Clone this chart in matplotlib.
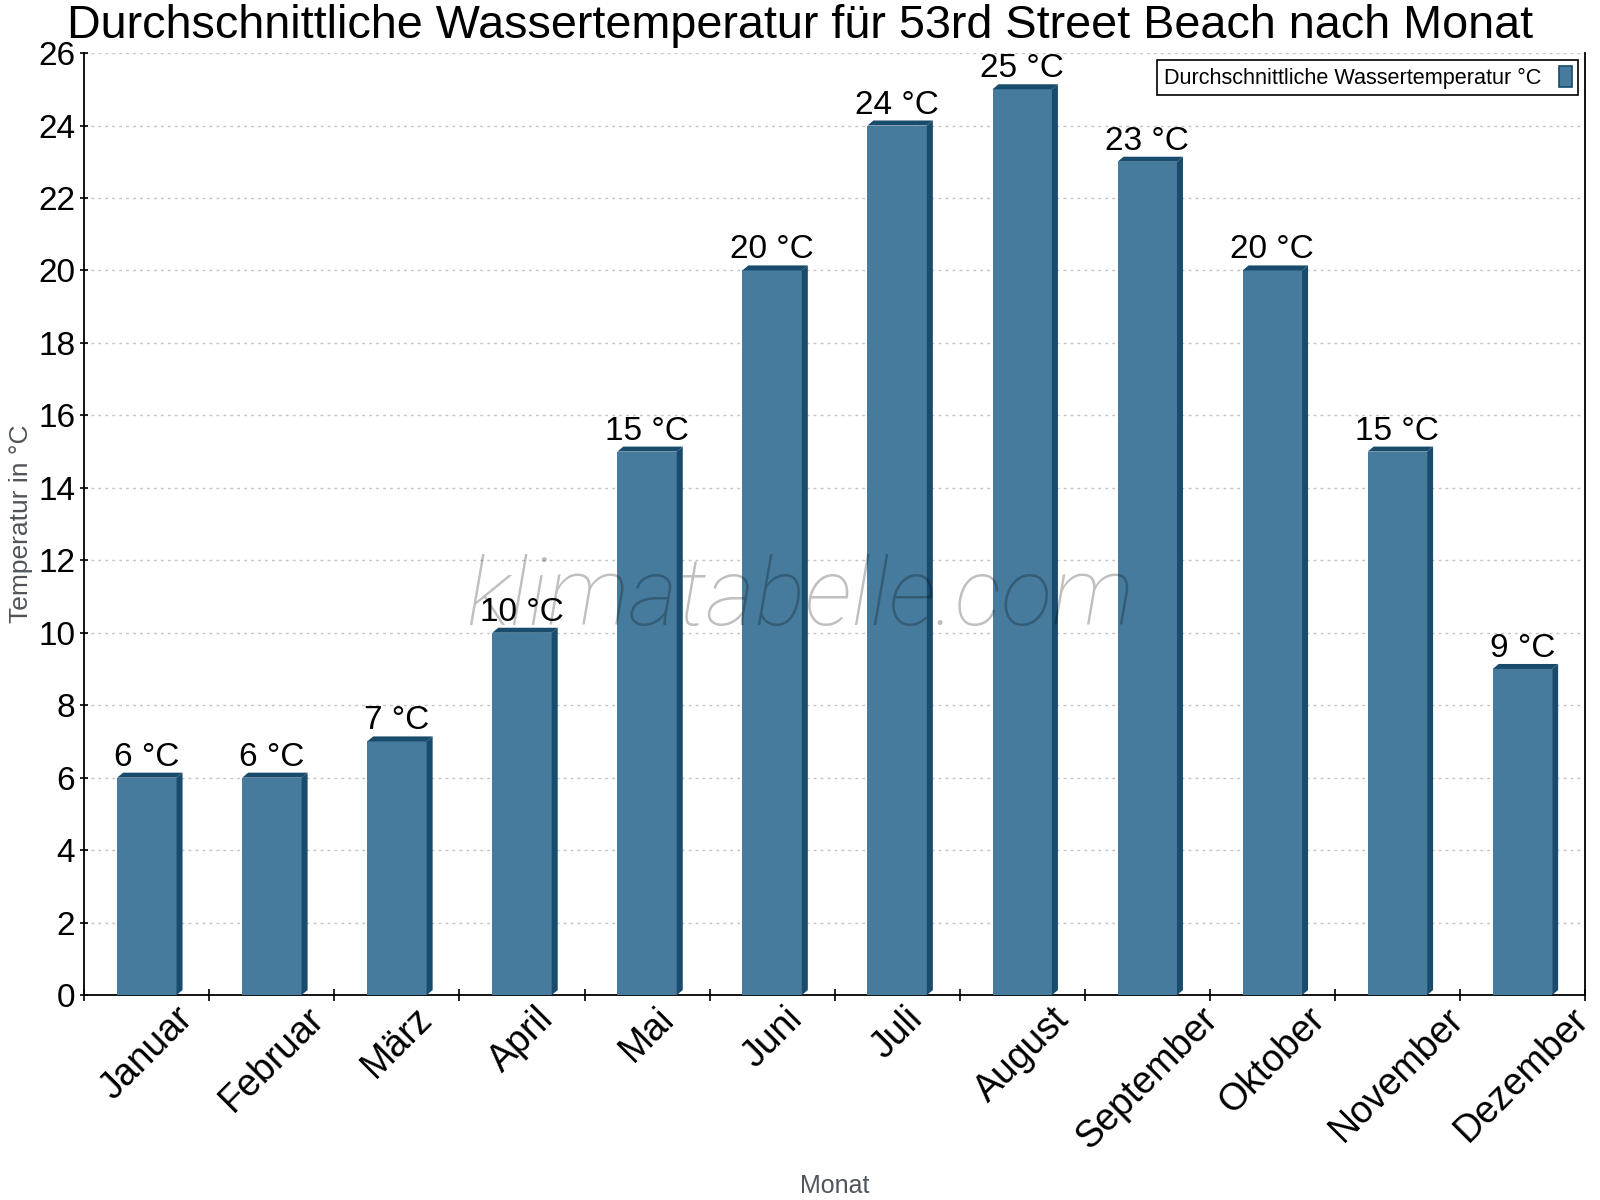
import matplotlib
matplotlib.use("Agg")
import matplotlib.pyplot as plt
from matplotlib.patches import Polygon, Patch
from matplotlib.ticker import FixedLocator, NullFormatter

months = ["Januar", "Februar", "März", "April", "Mai", "Juni", "Juli",
          "August", "September", "Oktober", "November", "Dezember"]
temps = [6, 6, 7, 10, 15, 20, 24, 25, 23, 20, 15, 9]
yticks = list(range(0, 27, 2))

title = "Durchschnittliche Wassertemperatur für 53rd Street Beach nach Monat"
series_name = "Durchschnittliche Wassertemperatur °C"
ylabel = "Temperatur in °C"
xlabel = "Monat"
watermark = "klimatabelle.com"

FACE = "#467b9d"
DARK = "#184b6c"
GREY = "#4f555c"

plt.rcParams['font.family'] = ['Liberation Sans', 'DejaVu Sans']

fig = plt.figure(figsize=(16, 12), dpi=100)
ax = fig.add_axes([0.0527, 0.1708, 0.9906 - 0.0527, 0.9558 - 0.1708])
ax.set_xlim(-0.5, len(months) - 0.5)
ax.set_ylim(0, 26)

# pixel offsets for the 3D effect converted to data units
p0 = ax.transData.transform((0, 0))
p1 = ax.transData.transform((1, 1))
dx = 6 / (p1[0] - p0[0])
dy = 5 / (p1[1] - p0[1])

w = 0.475
x = list(range(len(months)))
ax.bar(x, temps, width=w, color=FACE, zorder=3, linewidth=0)
for xi, v in zip(x, temps):
    x0, x1 = xi - w / 2, xi + w / 2
    side = Polygon([(x1, 0), (x1, v), (x1 + dx, v + dy), (x1 + dx, dy)],
                   closed=True, facecolor=DARK, edgecolor='none', zorder=3)
    top = Polygon([(x0, v), (x0 + dx, v + dy), (x1 + dx, v + dy), (x1, v)],
                  closed=True, facecolor=DARK, edgecolor='none', zorder=3)
    ax.add_patch(side)
    ax.add_patch(top)
    ax.annotate(f"{v} °C", (xi, v + dy), xytext=(0, 0), textcoords='offset points',
                ha='center', va='bottom', fontsize=24, color='black', zorder=5)

# grid
ax.set_yticks(yticks)
ax.yaxis.grid(True, color='#c4c4c4', linestyle=(0, (2, 3)), linewidth=1, zorder=0)
ax.set_axisbelow(True)

# spines
ax.spines['top'].set_visible(False)
for s in ['left', 'bottom', 'right']:
    ax.spines[s].set_color('black')
    ax.spines[s].set_linewidth(1.3)

# ticks
ax.tick_params(axis='y', labelsize=24, direction='inout', length=6, width=1.2, colors='black')
ax.xaxis.set_major_locator(FixedLocator([i - 0.5 for i in range(len(months) + 1)]))
ax.xaxis.set_major_formatter(NullFormatter())
ax.xaxis.set_minor_locator(FixedLocator(x))
ax.set_xticks(x, months, minor=True, rotation=45, fontsize=27)
ax.tick_params(axis='x', which='major', direction='inout', length=8, width=1.2)
ax.tick_params(axis='x', which='minor', length=0, pad=4)

ax.set_ylabel(ylabel, fontsize=19, color=GREY)
ax.yaxis.set_label_coords(-0.034, 0.5)
ax.set_xlabel(xlabel, fontsize=18, color=GREY)
ax.xaxis.set_label_coords(0.5, -0.19)

fig.text(0.5, 0.968, title, ha='center', va='baseline', fontsize=33.7, color='black')

# watermark
fig.text(0.5, 0.4795, watermark, ha='center', va='baseline',
         fontsize=68, family='Roboto', weight='light', style='italic',
         color='black', alpha=0.25, zorder=6)

handle = Patch(facecolor=FACE, edgecolor=DARK, linewidth=1.2)
leg = ax.legend([handle], [series_name], loc='upper right', markerfirst=False,
                fancybox=False, framealpha=1, edgecolor='black', fontsize=15.6,
                handlelength=0.62, handleheight=1.1, handletextpad=0.8,
                borderaxespad=0.3, borderpad=0.3)
leg.get_frame().set_linewidth(1.2)
leg.set_zorder(7)

fig.savefig("out.png", dpi=100)
